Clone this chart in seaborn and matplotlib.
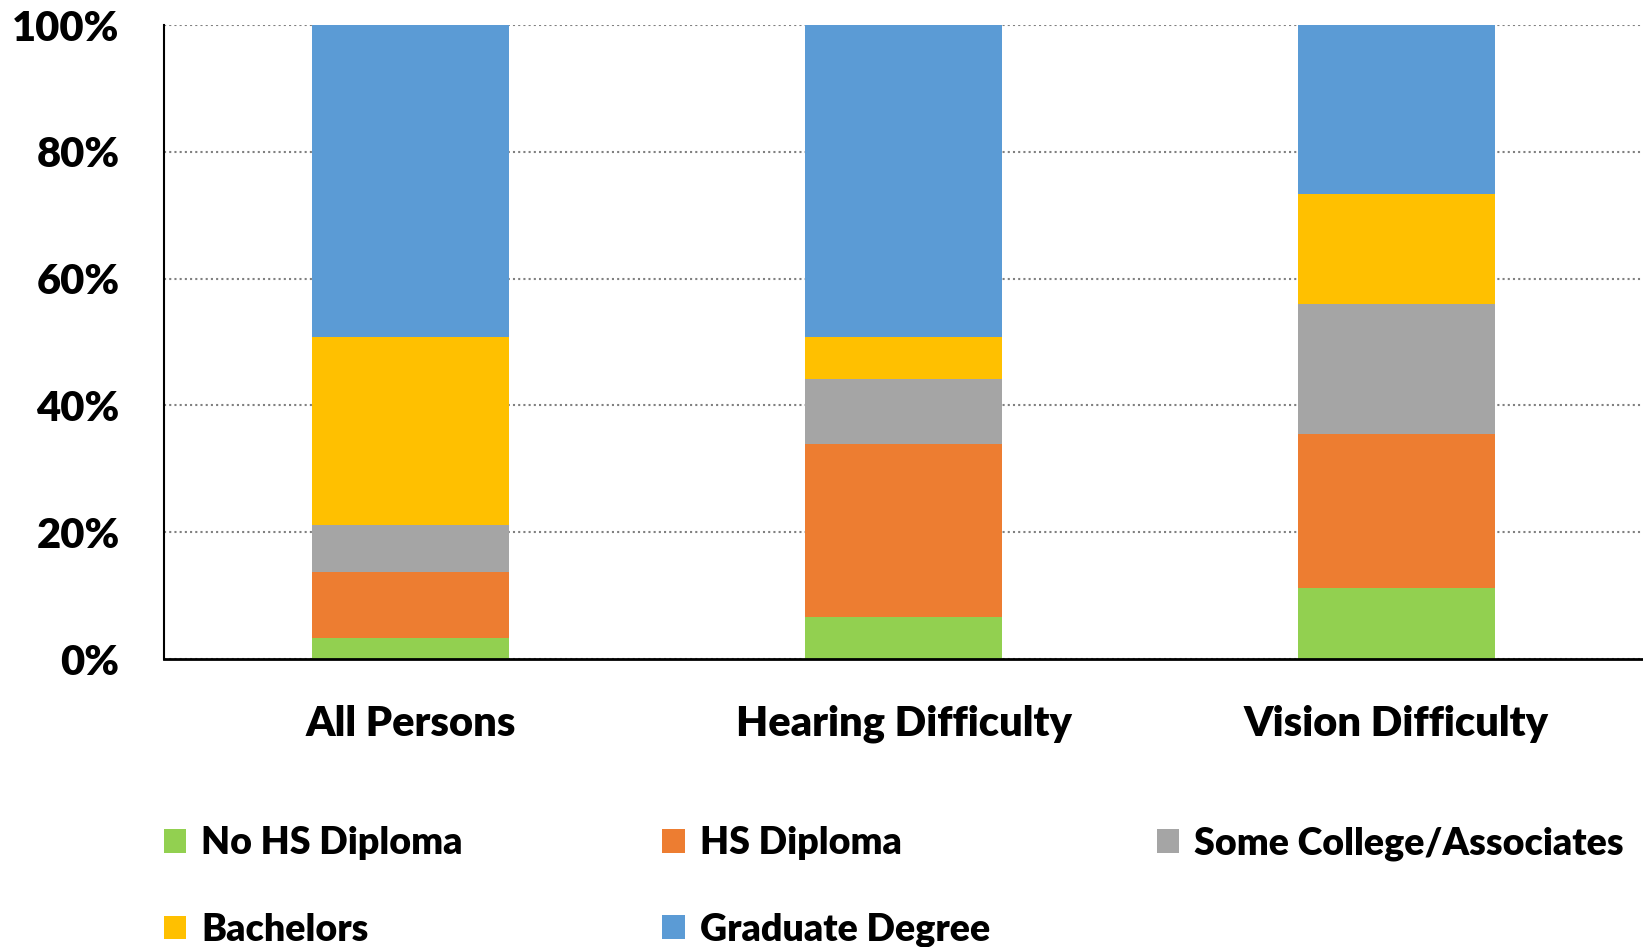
import numpy as np
import pandas as pd
import seaborn as sns
import matplotlib.pyplot as plt
from matplotlib.patches import Patch
from matplotlib.ticker import FuncFormatter

# data (percent of each group)
categories = ["All Persons", "Hearing Difficulty", "Vision Difficulty"]
levels = ["No HS Diploma", "HS Diploma", "Some College/Associates", "Bachelors", "Graduate Degree"]
no_hs = [3.4, 6.7, 11.2]
hs_diploma = [10.3, 27.2, 24.3]
some_college = [7.5, 10.3, 20.5]
bachelors = [29.6, 6.6, 17.3]
graduate = [49.2, 49.2, 26.7]
colors = ["#92D050", "#ED7D31", "#A5A5A5", "#FFC000", "#5B9BD5"]

sns.set_theme(style="white")
plt.rcParams["font.family"] = ["Lato", "DejaVu Sans"]

df = pd.DataFrame(
    [no_hs, hs_diploma, some_college, bachelors, graduate],
    index=levels, columns=categories,
)
cum = df.cumsum()

fig = plt.figure(figsize=(16.43, 9.47), dpi=100)
ax = fig.add_axes([0.0998, 0.304, 0.9002, 0.6696])

# stacked bars: draw cumulative totals from the top layer down
for i in reversed(range(len(levels))):
    sns.barplot(x=categories, y=cum.iloc[i].values, color=colors[i],
                saturation=1, width=0.4, linewidth=0, ax=ax)

ax.set_ylim(0, 100)
ax.set_xlim(-0.5, 2.5)
ax.set_yticks(np.arange(0, 101, 20))
ax.yaxis.set_major_formatter(FuncFormatter(lambda v, p: f"{v:.0f}%"))
ax.set_axisbelow(True)
ax.yaxis.grid(True, linestyle=(0, (1, 1.5)), color="#808080", linewidth=1.5)
ax.xaxis.grid(False)

for s in ["top", "right"]:
    ax.spines[s].set_visible(False)
ax.spines["left"].set_color("black")
ax.spines["left"].set_linewidth(1.5)
ax.spines["bottom"].set_color("black")
ax.spines["bottom"].set_linewidth(2)

ax.tick_params(axis="y", length=0, pad=32, labelsize=30, labelcolor="black")
ax.tick_params(axis="x", length=0, pad=33, labelsize=30, labelcolor="black")
for lab in ax.get_xticklabels() + ax.get_yticklabels():
    lab.set_fontweight("heavy")
ax.set_xlabel("")
ax.set_ylabel("")

# legend, laid out in three columns like the original
handles = [Patch(facecolor=c, edgecolor="none") for c in colors]
legend_cols = [([0, 3], 0.0998, 0.064), ([1, 4], 0.403, 0.064), ([2], 0.704, 0.109)]
for idx, x0, y0 in legend_cols:
    leg = fig.legend([handles[j] for j in idx], [levels[j] for j in idx],
                     loc="center left", bbox_to_anchor=(x0, y0),
                     frameon=False, borderpad=0, borderaxespad=0,
                     handlelength=0.6, handleheight=0.6, handletextpad=0.4,
                     labelspacing=1.4, labelcolor="black",
                     prop={"weight": "heavy", "size": 27})

fig.savefig("out.png", dpi=100)
